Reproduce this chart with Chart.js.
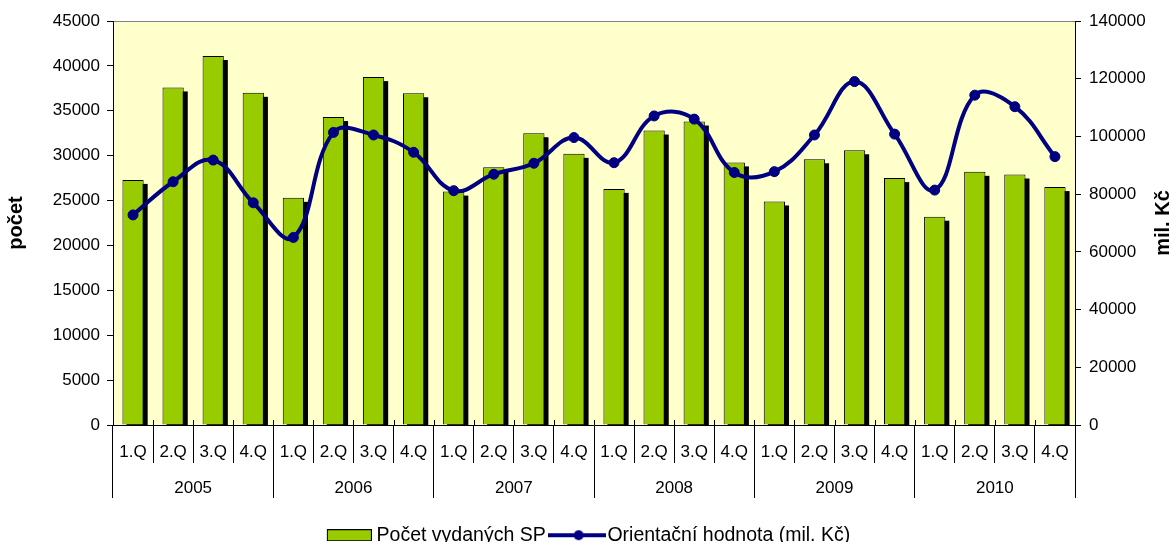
<!DOCTYPE html>
<html>
<head>
<meta charset="utf-8">
<script src="https://cdn.jsdelivr.net/npm/chart.js@4/dist/chart.umd.min.js"></script>
<style>
  html, body { margin: 0; padding: 0; background: #fff; }
  #wrap { width: 1175px; height: 542px; position: relative; }
</style>
</head>
<body>
<div id="wrap"><canvas id="chart"></canvas></div>
<script>
// quarterly data 2005-2010
const years = ['2005', '2006', '2007', '2008', '2009', '2010'];
const quarters = ['1.Q', '2.Q', '3.Q', '4.Q'];

const counts = [27300, 37600, 41100, 37000, 25300, 34300, 38750, 36950,
                26000, 28700, 32500, 30200, 26300, 32800, 33800, 29250,
                24900, 29600, 30600, 27500, 23200, 28200, 27900, 26500];

const values = [72800, 84300, 91800, 77000, 65000, 101400, 100500, 94500,
                81200, 86900, 90700, 99600, 90900, 107100, 106000, 87500,
                87800, 100500, 119000, 100800, 81400, 114300, 110300, 93000];

const labels = years.flatMap(() => quarters);

Chart.defaults.font.family = '"Liberation Sans", Arial, sans-serif';
Chart.defaults.color = '#000';

const FONT = { size: 17 };

// plot background + top frame line
const plotBackground = {
    id: 'plotBackground',
    beforeDraw(chart) {
        const { ctx, chartArea: a } = chart;
        ctx.save();
        ctx.fillStyle = '#FFFFCC';
        ctx.fillRect(a.left, a.top, a.right - a.left, a.bottom - a.top);
        ctx.strokeStyle = '#808080';
        ctx.lineWidth = 1;
        ctx.beginPath();
        ctx.moveTo(a.left, a.top + 0.5);
        ctx.lineTo(a.right, a.top + 0.5);
        ctx.stroke();
        ctx.restore();
    }
};

// black drop shadow behind the bars (Excel style)
const barShadow = {
    id: 'barShadow',
    beforeDatasetDraw(chart, args) {
        if (args.index !== 0) return;
        const { ctx, chartArea: a } = chart;
        ctx.save();
        ctx.beginPath();
        ctx.rect(a.left, a.top, a.right - a.left, a.bottom - a.top);
        ctx.clip();
        ctx.fillStyle = '#000';
        args.meta.data.forEach(bar => {
            const { x, y, base, width } = bar.getProps(['x', 'y', 'base', 'width'], true);
            ctx.fillRect(x - width / 2 + 4, y + 4, width, base - y);
        });
        ctx.restore();
    }
};

// small tick marks just above the category axis + rotated right title
const axisExtras = {
    id: 'axisExtras',
    afterDraw(chart) {
        const { ctx, chartArea: a } = chart;
        const xs = chart.scales.x;
        const half = (xs.getPixelForValue(1) - xs.getPixelForValue(0)) / 2;
        ctx.save();
        ctx.strokeStyle = '#000';
        ctx.lineWidth = 1;
        ctx.beginPath();
        for (let i = 0; i <= labels.length; i++) {
            const px = Math.round(xs.getPixelForValue(i) - half) + 0.5;
            ctx.moveTo(px, a.bottom - 5);
            ctx.lineTo(px, a.bottom);
        }
        ctx.stroke();

        const yr = chart.scales.y1;
        ctx.translate(yr.right - 12, (a.top + a.bottom) / 2);
        ctx.rotate(-Math.PI / 2);
        ctx.font = 'bold 20px "Liberation Sans", Arial, sans-serif';
        ctx.textAlign = 'center';
        ctx.textBaseline = 'middle';
        ctx.fillStyle = '#000';
        ctx.fillText('mil. Kč', 0, 0);
        ctx.restore();
    }
};

// legend symbols: green box (shifted right inside its canvas) and line with marker
function legendBarImage() {
    const c = document.createElement('canvas');
    c.width = 52; c.height = 12;
    const g = c.getContext('2d');
    g.fillStyle = '#99CC00';
    g.fillRect(7, 0, 45, 12);
    g.strokeStyle = '#000';
    g.lineWidth = 1;
    g.strokeRect(7.5, 0.5, 44, 11);
    return c;
}

function legendLineImage() {
    const c = document.createElement('canvas');
    c.width = 58; c.height = 12;
    const g = c.getContext('2d');
    g.strokeStyle = '#000080';
    g.lineWidth = 4;
    g.beginPath();
    g.moveTo(0, 6); g.lineTo(58, 6);
    g.stroke();
    g.fillStyle = '#000080';
    g.beginPath();
    g.arc(31, 6, 5, 0, Math.PI * 2);
    g.fill();
    return c;
}

const legendImages = [legendBarImage(), legendLineImage()];

new Chart(document.getElementById('chart'), {
    type: 'bar',
    data: {
        labels: labels,
        datasets: [{
            type: 'bar',
            label: 'Počet vydaných SP',
            data: counts,
            yAxisID: 'y',
            backgroundColor: '#99CC00',
            borderColor: '#000',
            borderWidth: 1,
            barPercentage: 1,
            categoryPercentage: 0.53,
            clip: 0,
            order: 2
        }, {
            type: 'line',
            label: 'Orientační hodnota (mil. Kč)',
            data: values,
            yAxisID: 'y1',
            borderColor: '#000080',
            backgroundColor: '#000080',
            borderWidth: 4,
            pointRadius: 5,
            pointBackgroundColor: '#000080',
            pointBorderColor: '#000080',
            pointBorderWidth: 1,
            tension: 0.4,
            order: 1
        }]
    },
    options: {
        responsive: true,
        maintainAspectRatio: false,
        animation: false,
        layout: { padding: { top: 21, left: 0, right: 0, bottom: -13 } },
        plugins: {
            legend: {
                position: 'bottom',
                labels: {
                    usePointStyle: true,
                    pointStyleWidth: 42,
                    padding: 10,
                    color: '#000',
                    font: { size: 19.5 },
                    sort: (a, b) => a.datasetIndex - b.datasetIndex,
                    generateLabels(chart) {
                        const items = Chart.defaults.plugins.legend.labels.generateLabels(chart);
                        items.forEach(it => { it.pointStyle = legendImages[it.datasetIndex]; });
                        return items;
                    }
                }
            },
            tooltip: { enabled: false }
        },
        scales: {
            x: {
                type: 'category',
                offset: true,
                weight: 0,
                grid: { offset: true, drawOnChartArea: false, tickLength: 38, color: '#000', lineWidth: 1 },
                border: { display: true, color: '#000' },
                ticks: { font: FONT, padding: -21, maxRotation: 0, autoSkip: false },
                afterFit(scale) { scale.height = 38; }
            },
            x2: {
                type: 'category',
                labels: years,
                position: 'bottom',
                offset: true,
                weight: 1,
                grid: { offset: true, drawOnChartArea: false, tickLength: 35, color: '#000', lineWidth: 1 },
                border: { display: false },
                ticks: { font: FONT, padding: -20, maxRotation: 0, autoSkip: false },
                afterFit(scale) { scale.height = 52.5; }
            },
            y: {
                position: 'left',
                min: 0,
                max: 45000,
                ticks: { stepSize: 5000, font: FONT, padding: 7, callback: v => String(v) },
                grid: { drawOnChartArea: false, tickLength: 6, color: '#000' },
                border: { display: true, color: '#000' },
                title: { display: true, text: 'počet', font: { size: 20, weight: 'bold' } },
                afterFit(scale) { scale.width = 113; }
            },
            y1: {
                position: 'right',
                min: 0,
                max: 140000,
                ticks: { stepSize: 20000, font: FONT, padding: 8, callback: v => String(v) },
                grid: { drawOnChartArea: false, tickLength: 6, color: '#000' },
                border: { display: true, color: '#000' },
                afterFit(scale) { scale.width = 100; }
            }
        }
    },
    plugins: [plotBackground, barShadow, axisExtras]
});
</script>
</body>
</html>
